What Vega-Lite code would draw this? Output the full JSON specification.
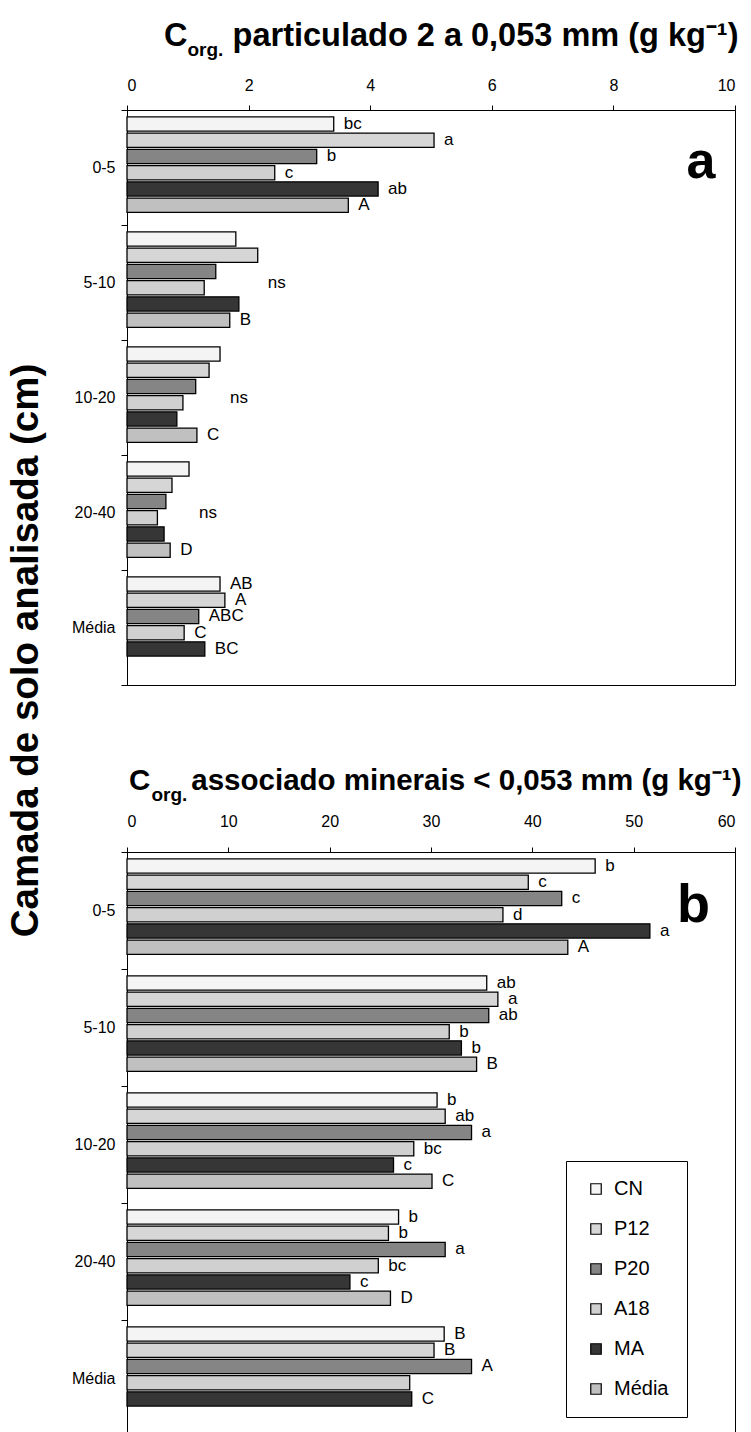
{
  "$schema": "https://vega.github.io/schema/vega-lite/v6.json",
  "padding": {"left": 5, "top": 19, "right": 5, "bottom": 0},
  "bounds": "flush",
  "spacing": 167,
  "config": {
    "font": "Liberation Sans",
    "view": {"stroke": "black", "strokeWidth": 1},
    "axis": {"labelColor": "black", "domainColor": "black", "tickColor": "black", "labelFontSize": 16, "grid": false, "titleColor": "black"},
    "text": {"font": "Liberation Sans", "color": "black"}
  },
  "datasets": {
    "pa": [
      {"camada": "0-5", "trat": "CN", "v": 3.40, "lab": "bc"},
      {"camada": "0-5", "trat": "P12", "v": 5.05, "lab": "a"},
      {"camada": "0-5", "trat": "P20", "v": 3.12, "lab": "b"},
      {"camada": "0-5", "trat": "A18", "v": 2.43, "lab": "c"},
      {"camada": "0-5", "trat": "MA", "v": 4.13, "lab": "ab"},
      {"camada": "0-5", "trat": "Média", "v": 3.64, "lab": "A"},
      {"camada": "5-10", "trat": "CN", "v": 1.79, "lab": ""},
      {"camada": "5-10", "trat": "P12", "v": 2.15, "lab": ""},
      {"camada": "5-10", "trat": "P20", "v": 1.46, "lab": ""},
      {"camada": "5-10", "trat": "A18", "v": 1.27, "lab": ""},
      {"camada": "5-10", "trat": "MA", "v": 1.84, "lab": ""},
      {"camada": "5-10", "trat": "Média", "v": 1.69, "lab": "B"},
      {"camada": "10-20", "trat": "CN", "v": 1.53, "lab": ""},
      {"camada": "10-20", "trat": "P12", "v": 1.35, "lab": ""},
      {"camada": "10-20", "trat": "P20", "v": 1.13, "lab": ""},
      {"camada": "10-20", "trat": "A18", "v": 0.92, "lab": ""},
      {"camada": "10-20", "trat": "MA", "v": 0.82, "lab": ""},
      {"camada": "10-20", "trat": "Média", "v": 1.15, "lab": "C"},
      {"camada": "20-40", "trat": "CN", "v": 1.02, "lab": ""},
      {"camada": "20-40", "trat": "P12", "v": 0.74, "lab": ""},
      {"camada": "20-40", "trat": "P20", "v": 0.64, "lab": ""},
      {"camada": "20-40", "trat": "A18", "v": 0.50, "lab": ""},
      {"camada": "20-40", "trat": "MA", "v": 0.61, "lab": ""},
      {"camada": "20-40", "trat": "Média", "v": 0.71, "lab": "D"},
      {"camada": "Média", "trat": "CN", "v": 1.53, "lab": "AB"},
      {"camada": "Média", "trat": "P12", "v": 1.61, "lab": "A"},
      {"camada": "Média", "trat": "P20", "v": 1.18, "lab": "ABC"},
      {"camada": "Média", "trat": "A18", "v": 0.94, "lab": "C"},
      {"camada": "Média", "trat": "MA", "v": 1.28, "lab": "BC"}
    ],
    "nsa": [
      {"camada": "5-10", "v": 2.15, "lab": "ns"},
      {"camada": "10-20", "v": 1.53, "lab": "ns"},
      {"camada": "20-40", "v": 1.02, "lab": "ns"}
    ],
    "leta": [{"camada": "0-5", "v": 9.44, "lab": "a"}],
    "letb": [{"camada": "0-5", "v": 55.9, "lab": "b"}],
    "pb": [
      {"camada": "0-5", "trat": "CN", "v": 46.2, "lab": "b"},
      {"camada": "0-5", "trat": "P12", "v": 39.6, "lab": "c"},
      {"camada": "0-5", "trat": "P20", "v": 42.9, "lab": "c"},
      {"camada": "0-5", "trat": "A18", "v": 37.1, "lab": "d"},
      {"camada": "0-5", "trat": "MA", "v": 51.6, "lab": "a"},
      {"camada": "0-5", "trat": "Média", "v": 43.5, "lab": "A"},
      {"camada": "5-10", "trat": "CN", "v": 35.5, "lab": "ab"},
      {"camada": "5-10", "trat": "P12", "v": 36.6, "lab": "a"},
      {"camada": "5-10", "trat": "P20", "v": 35.7, "lab": "ab"},
      {"camada": "5-10", "trat": "A18", "v": 31.8, "lab": "b"},
      {"camada": "5-10", "trat": "MA", "v": 33.0, "lab": "b"},
      {"camada": "5-10", "trat": "Média", "v": 34.5, "lab": "B"},
      {"camada": "10-20", "trat": "CN", "v": 30.6, "lab": "b"},
      {"camada": "10-20", "trat": "P12", "v": 31.4, "lab": "ab"},
      {"camada": "10-20", "trat": "P20", "v": 34.0, "lab": "a"},
      {"camada": "10-20", "trat": "A18", "v": 28.3, "lab": "bc"},
      {"camada": "10-20", "trat": "MA", "v": 26.3, "lab": "c"},
      {"camada": "10-20", "trat": "Média", "v": 30.1, "lab": "C"},
      {"camada": "20-40", "trat": "CN", "v": 26.8, "lab": "b"},
      {"camada": "20-40", "trat": "P12", "v": 25.8, "lab": "b"},
      {"camada": "20-40", "trat": "P20", "v": 31.4, "lab": "a"},
      {"camada": "20-40", "trat": "A18", "v": 24.8, "lab": "bc"},
      {"camada": "20-40", "trat": "MA", "v": 22.0, "lab": "c"},
      {"camada": "20-40", "trat": "Média", "v": 26.0, "lab": "D"},
      {"camada": "Média", "trat": "CN", "v": 31.3, "lab": "B"},
      {"camada": "Média", "trat": "P12", "v": 30.3, "lab": "B"},
      {"camada": "Média", "trat": "P20", "v": 34.0, "lab": "A"},
      {"camada": "Média", "trat": "A18", "v": 27.9, "lab": ""},
      {"camada": "Média", "trat": "MA", "v": 28.1, "lab": "C"}
    ]
  },
  "resolve": {"legend": {"fill": "independent"}},
  "vconcat": [
    {
      "width": 608,
      "height": 575,
      "title": {
        "text": "C\u00a0\u00a0\u00a0\u00a0 particulado 2 a 0,053 mm (g kg⁻¹)",
        "anchor": "start", "frame": "group", "dx": 37, "offset": -12,
        "fontSize": 32.5, "fontWeight": "bold", "color": "black", "font": "Liberation Sans"
      },
      "encoding": {
        "y": {"field": "camada", "type": "nominal", "sort": ["0-5", "5-10", "10-20", "20-40", "Média"],
          "scale": {"domain": ["0-5", "5-10", "10-20", "20-40", "Média"], "paddingInner": 0, "paddingOuter": 0},
          "axis": {"tickBand": "extent", "tickSize": 6, "labelPadding": 6, "title": "Camada de solo analisada (cm)",
            "titleFontSize": 38.5, "titleFontWeight": "bold", "titleX": -102, "titleY": 540, "titleAngle": -90,
            "titleAlign": "center", "titleBaseline": "middle"}},
        "x": {"field": "v", "type": "quantitative", "scale": {"domain": [0, 10], "nice": false},
          "axis": {"orient": "top", "values": [0, 2, 4, 6, 8, 10], "tickSize": 5, "labelPadding": 12,
            "title": "org.", "titleFontSize": 19, "titleFontWeight": "bold", "titleX": 60, "titleY": -55,
            "titleAlign": "left", "titleBaseline": "alphabetic", "titleAngle": 0}}
      },
      "layer": [
        {
          "data": {"name": "pa"},
          "mark": {"type": "bar", "stroke": "black", "strokeWidth": 1.3},
          "encoding": {
            "yOffset": {"field": "trat", "type": "nominal", "sort": ["CN", "P12", "P20", "A18", "MA", "Média"],
              "scale": {"domain": ["CN", "P12", "P20", "A18", "MA", "Média"], "paddingInner": 0.12, "paddingOuter": 0.6, "align": 0.35}},
            "fill": {"field": "trat", "type": "nominal", "sort": ["CN", "P12", "P20", "A18", "MA", "Média"],
              "scale": {"domain": ["CN", "P12", "P20", "A18", "MA", "Média"], "range": ["#f4f4f4", "#d6d6d6", "#858585", "#d0d0d0", "#363636", "#c0c0c0"]},
              "legend": null}
          }
        },
        {
          "data": {"name": "pa"},
          "mark": {"type": "text", "align": "left", "baseline": "middle", "dx": 10, "fontSize": 17},
          "encoding": {
            "yOffset": {"field": "trat", "type": "nominal", "sort": ["CN", "P12", "P20", "A18", "MA", "Média"],
              "scale": {"domain": ["CN", "P12", "P20", "A18", "MA", "Média"], "paddingInner": 0.12, "paddingOuter": 0.6, "align": 0.35}},
            "text": {"field": "lab"}
          }
        },
        {
          "data": {"name": "nsa"},
          "mark": {"type": "text", "align": "left", "baseline": "middle", "dx": 10, "fontSize": 17},
          "encoding": {"text": {"field": "lab"}}
        },
        {
          "data": {"name": "leta"},
          "mark": {"type": "text", "align": "center", "baseline": "alphabetic", "dy": 10, "fontSize": 52, "fontWeight": "bold"},
          "encoding": {"text": {"field": "lab"}}
        }
      ]
    },
    {
      "width": 608,
      "height": 585,
      "title": {
        "text": "C\u00a0\u00a0\u00a0\u00a0 associado minerais < 0,053 mm (g kg⁻¹)",
        "anchor": "start", "frame": "group", "dx": 2, "offset": -11,
        "fontSize": 29.5, "fontWeight": "bold", "color": "black", "font": "Liberation Sans"
      },
      "encoding": {
        "y": {"field": "camada", "type": "nominal", "sort": ["0-5", "5-10", "10-20", "20-40", "Média"],
          "scale": {"domain": ["0-5", "5-10", "10-20", "20-40", "Média"], "paddingInner": 0, "paddingOuter": 0},
          "axis": {"tickBand": "extent", "tickSize": 6, "labelPadding": 6, "title": null}},
        "x": {"field": "v", "type": "quantitative", "scale": {"domain": [0, 60], "nice": false},
          "axis": {"orient": "top", "values": [0, 10, 20, 30, 40, 50, 60], "tickSize": 5, "labelPadding": 18,
            "title": "org.", "titleFontSize": 19, "titleFontWeight": "bold", "titleX": 24, "titleY": -52,
            "titleAlign": "left", "titleBaseline": "alphabetic", "titleAngle": 0}}
      },
      "layer": [
        {
          "data": {"name": "pb"},
          "mark": {"type": "bar", "stroke": "black", "strokeWidth": 1.3},
          "encoding": {
            "yOffset": {"field": "trat", "type": "nominal", "sort": ["CN", "P12", "P20", "A18", "MA", "Média"],
              "scale": {"domain": ["CN", "P12", "P20", "A18", "MA", "Média"], "paddingInner": 0.12, "paddingOuter": 0.6, "align": 0.35}},
            "fill": {"field": "trat", "type": "nominal", "sort": ["CN", "P12", "P20", "A18", "MA", "Média"],
              "scale": {"domain": ["CN", "P12", "P20", "A18", "MA", "Média"], "range": ["#f4f4f4", "#d6d6d6", "#858585", "#d0d0d0", "#363636", "#c0c0c0"]},
              "legend": {"orient": "none", "legendX": 439, "legendY": 309, "title": null, "symbolType": "square",
                "symbolSize": 110, "symbolStrokeColor": "black", "symbolStrokeWidth": 1.2, "labelFontSize": 20,
                "labelColor": "black", "labelFont": "Liberation Sans", "strokeColor": "black", "fillColor": "white",
                "padding": 18, "rowPadding": 20, "labelOffset": 8, "symbolOffset": 2}}
          }
        },
        {
          "data": {"name": "pb"},
          "mark": {"type": "text", "align": "left", "baseline": "middle", "dx": 10, "fontSize": 17},
          "encoding": {
            "yOffset": {"field": "trat", "type": "nominal", "sort": ["CN", "P12", "P20", "A18", "MA", "Média"],
              "scale": {"domain": ["CN", "P12", "P20", "A18", "MA", "Média"], "paddingInner": 0.12, "paddingOuter": 0.6, "align": 0.35}},
            "text": {"field": "lab"}
          }
        },
        {
          "data": {"name": "letb"},
          "mark": {"type": "text", "align": "center", "baseline": "alphabetic", "dy": 11, "fontSize": 54, "fontWeight": "bold"},
          "encoding": {"text": {"field": "lab"}}
        }
      ]
    }
  ]
}
